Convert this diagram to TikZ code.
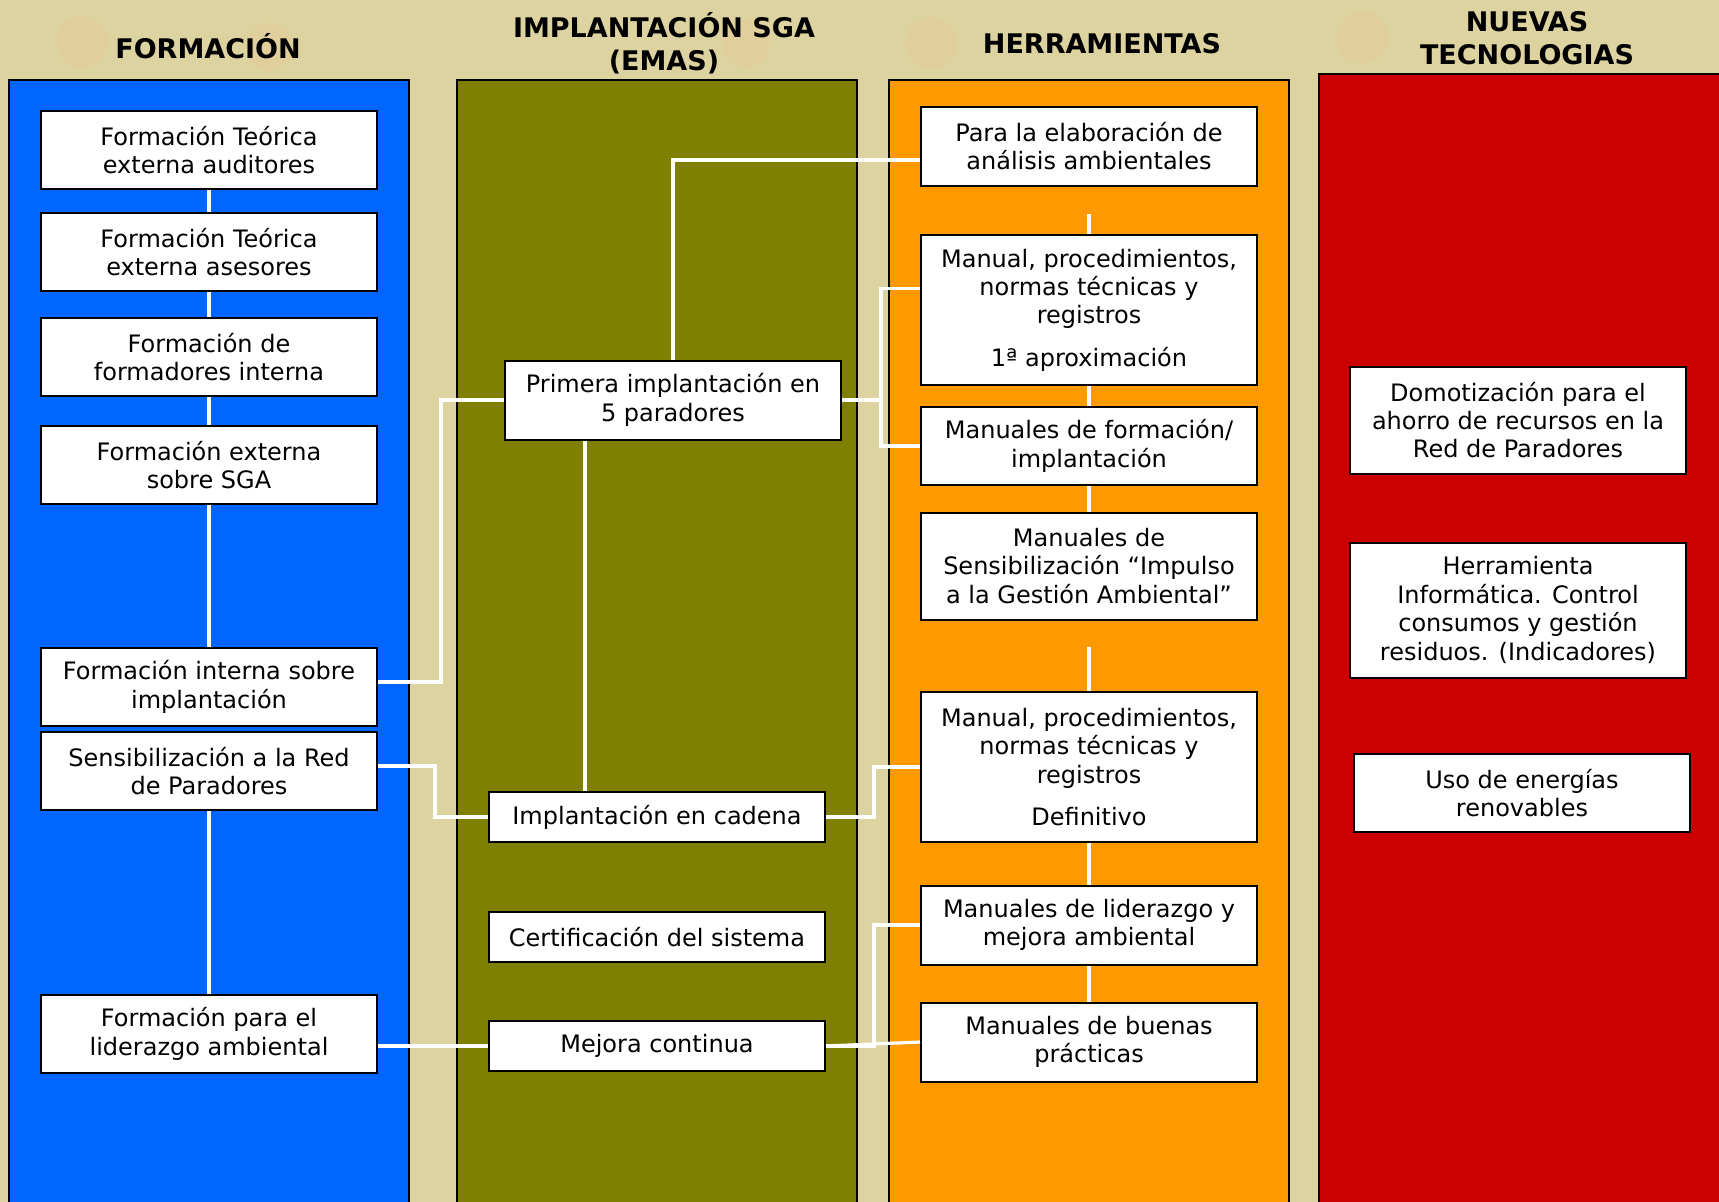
\documentclass[tikz,border=0pt]{standalone}
\usepackage{fontspec}
\setmainfont{DejaVu Sans}
\usetikzlibrary{positioning, calc}
\usepackage{xcolor}
\definecolor{fondo}{RGB}{221,211,160}
\definecolor{mancha}{RGB}{229,204,150}
\definecolor{azul}{RGB}{0,102,255}
\definecolor{oliva}{RGB}{128,128,0}
\definecolor{naranja}{RGB}{255,153,0}
\definecolor{rojo}{RGB}{204,0,0}

\begin{document}
\begin{tikzpicture}[x=0.5pt, y=-0.5pt,
    caja/.style={draw=black, line width=1pt, fill=white, align=center, inner sep=0pt,
      minimum width=168pt, font=\fontsize{12}{14.2}\selectfont},
    enlace/.style={draw=white, line width=1.6pt},
    titulo/.style={align=center, font=\fontsize{13.5}{16.4}\selectfont\bfseries},
    columna/.style={draw=black, line width=0.8pt}]

      \useasboundingbox (0,0) rectangle (1719,1201);
      \fill[fondo] (-10,-10) rectangle (1730,1215);
      \fill[mancha, opacity=0.45] (82,42) circle (26) (269,47) circle (24) (746,43) circle (24)
        (931,43) circle (26) (1362,37) circle (26);

      \filldraw[columna, fill=azul] (9,80) rectangle (409,1215);
      \filldraw[columna, fill=oliva] (457,80) rectangle (857,1215);
      \filldraw[columna, fill=naranja] (889,80) rectangle (1289,1215);
      \filldraw[columna, fill=rojo] (1319,74) rectangle (1730,1215);

      \node[titulo] (tform) at (208,46) {FORMACIÓN};
      \node[titulo] (timpl) at (664,43) {IMPLANTACIÓN SGA\\(EMAS)};
      \node[titulo] (therr) at (1102,44) {HERRAMIENTAS};
      \node[titulo] (tnuev) at (1527,38) {NUEVAS\\TECNOLOGIAS};

      \node[caja, minimum height=39pt] (f1) at (209,150) {Formación Teórica\\externa auditores};
      \node[caja, minimum height=39pt] (f2) at (209,252) {Formación Teórica\\externa asesores};
      \node[caja, minimum height=39pt] (f3) at (209,357) {Formación de\\formadores interna};
      \node[caja, minimum height=39pt] (f4) at (209,465) {Formación externa\\sobre SGA};
      \node[caja, minimum height=39pt] (f5) at (209,687) {Formación interna sobre\\implantación};
      \node[caja, minimum height=39pt] (f6) at (209,771) {Sensibilización a la Red\\de Paradores};
      \node[caja, minimum height=39pt] (f7) at (209,1034) {Formación para el\\liderazgo ambiental};

      \node[caja, minimum height=39.5pt] (pi) at (673,400) {Primera implantación en\\5 paradores};
      \node[caja, minimum height=25pt] (ic) at (657,817) {Implantación en cadena};
      \node[caja, minimum height=25pt] (cs) at (657,937) {Certificación del sistema};
      \node[caja, minimum height=25pt] (mc) at (657,1046) {Mejora continua};

      \node[caja, minimum height=39.5pt] (para) at (1089,146) {Para la elaboración de\\análisis ambientales};
      \node[caja, minimum height=75pt] (m1) at (1089,310) {Manual, procedimientos,\\normas técnicas y\\registros\\[7pt]1ª aproximación};
      \node[caja, minimum height=39pt] (mf) at (1089,446) {Manuales de formación/\\implantación};
      \node[caja, minimum height=53.5pt] (sens) at (1089,566) {Manuales de\\Sensibilización “Impulso\\a la Gestión Ambiental”};
      \node[caja, minimum height=75pt] (md) at (1089,767) {Manual, procedimientos,\\normas técnicas y\\registros\\[7pt]Definitivo};
      \node[caja, minimum height=39.5pt] (lid) at (1089,925) {Manuales de liderazgo y\\mejora ambiental};
      \node[caja, minimum height=39.5pt] (bp) at (1089,1042) {Manuales de buenas\\prácticas};

      \node[caja, minimum height=53.5pt] (dom) at (1518,420) {Domotización para el\\ahorro de recursos en la\\Red de Paradores};
      \node[caja, minimum height=67.5pt] (hi) at (1518,610) {Herramienta\\Informática. Control\\consumos y gestión\\residuos. (Indicadores)};
      \node[caja, minimum height=39pt] (uso) at (1522,793) {Uso de energías\\renovables};

      \draw[enlace] (f1) -- (f2);
      \draw[enlace] (f2) -- (f3);
      \draw[enlace] (f3) -- (f4);
      \draw[enlace] (f4) -- (f5);
      \draw[enlace] (f6) -- (f7);
      \draw[enlace] ([yshift=2.5pt]f5.east) -- ++(63,0) |- (pi.west);
      \draw[enlace] ([yshift=2.5pt]f6.east) -- ++(57,0) |- (ic.west);
      \draw[enlace] (mc.west) -- (mc.west -| f7.east);

      \draw[enlace] (pi.north) |- ([yshift=-7pt]para.west);
      \draw[enlace] ([xshift=-44pt]pi.south) -- ([xshift=-44pt]pi.south |- ic.north);
      \draw[enlace] (pi.east) -- ++(39,0) coordinate (rama) |- ([yshift=10.8pt]m1.west);
      \draw[enlace] (rama) |- (mf.west);
      \draw[enlace] (ic.east) -- ++(48,0) |- (md.west);
      \draw[enlace] (mc.east) -- ++(48,0) |- (lid.west);
      \draw[enlace] (mc.east) -- (bp.west);

      \coordinate[above=10pt of m1.north] (cabo1);
      \coordinate[above=22pt of md.north] (cabo2);
      \draw[enlace] (cabo1) -- (m1.north);
      \draw[enlace] (cabo2) -- (md.north);
      \draw[enlace] (m1) -- (mf);
      \draw[enlace] (mf) -- (sens);
      \draw[enlace] (md) -- (lid);
      \draw[enlace] (lid) -- (bp);

    \end{tikzpicture}
\end{document}
